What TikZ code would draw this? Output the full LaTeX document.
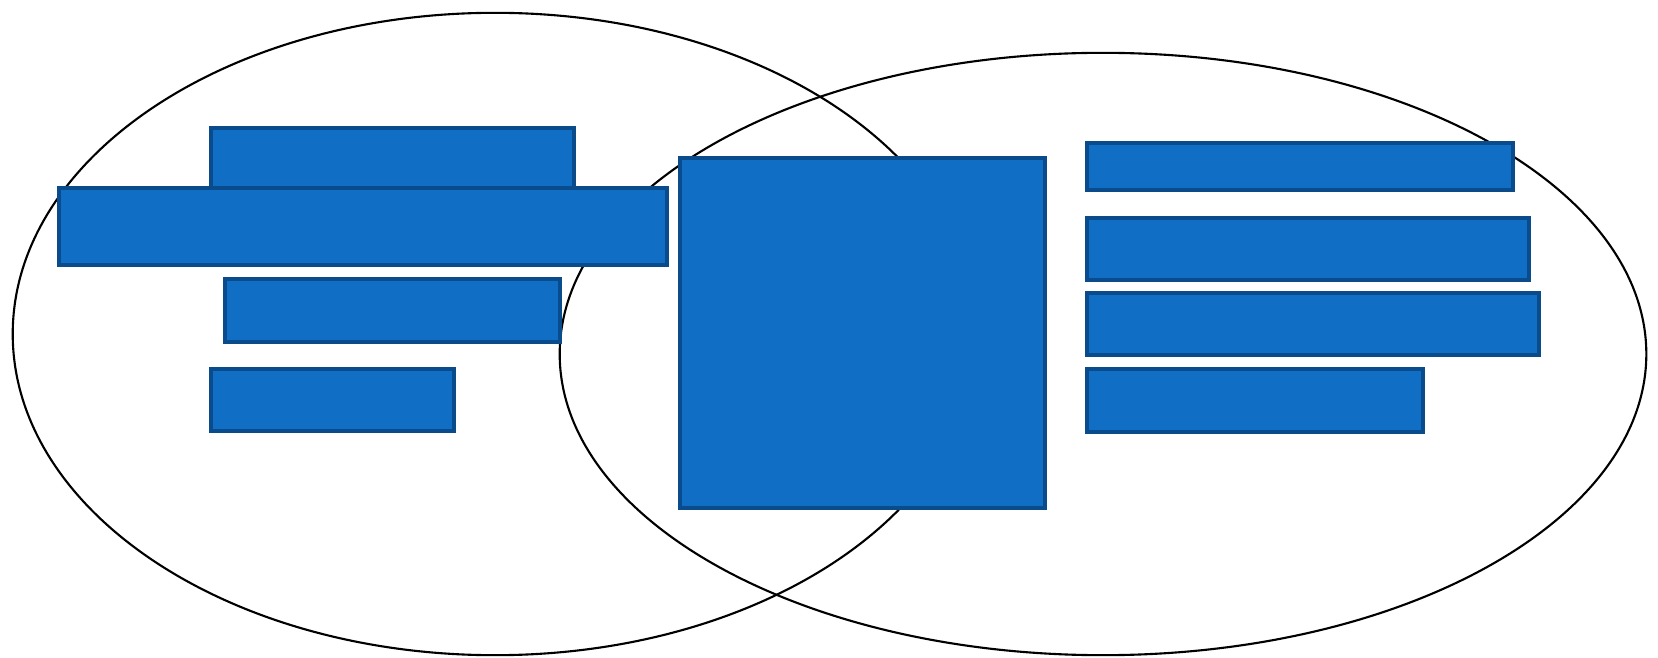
\documentclass[tikz,border=0pt]{standalone}
\usepackage{xcolor}
\usepackage{tikz}

\definecolor{boxfill}{RGB}{16,110,196}
\definecolor{boxline}{RGB}{10,75,140}

\begin{document}
\begin{tikzpicture}[x=0.01cm, y=-0.01cm, redact/.style={fill=boxfill, draw=boxline, line width=1.1pt}]
            \useasboundingbox (0,0) rectangle (1658,658);
            % Ellipses
            \draw[black, line width=0.6pt] (495,334) ellipse [x radius=4.82cm, y radius=3.21cm];
            \draw[black, line width=0.6pt] (1103,354) ellipse [x radius=5.43cm, y radius=3.01cm];
            
            % Left boxes
            \draw[redact] (211,128) rectangle (574,190);
            \draw[redact] (59,188) rectangle (667,265);
            \draw[redact] (225,279) rectangle (560,342);
            \draw[redact] (211,369) rectangle (454,431);
            
            % Middle box
            \draw[redact] (680,158) rectangle (1045,508);
            
            % Right boxes
            \foreach \ya/\yb/\xr in {143/190/1513, 218/280/1529, 293/355/1539, 369/432/1423}
            {
                \draw[redact] (1087,\ya) rectangle (\xr,\yb);
            }
\end{tikzpicture}
\end{document}
